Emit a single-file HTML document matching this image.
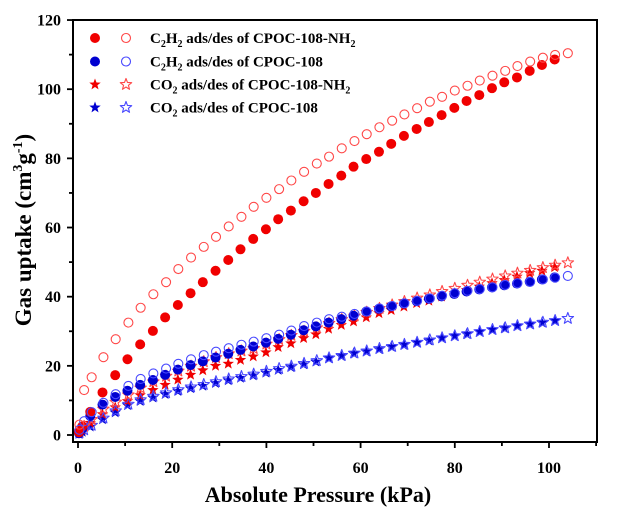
<!DOCTYPE html>
<html><head><meta charset="utf-8"><style>
body{margin:0;background:#fff;}
svg{display:block;font-family:"Liberation Serif",serif;font-weight:bold;}
</style></head><body>
<svg id="chart" width="620" height="513" viewBox="0 0 620 513">
<g id="marks"></g>
<g id="axes"></g>
<g id="legend"></g>
</svg>
<script>
const xTicks=[0,20,40,60,80,100];
const yTicks=[0,20,40,60,80,100,120];
const xAds=[0.2,0.9,2.6,5.2,7.9,10.5,13.2,15.9,18.5,21.2,23.9,26.5,29.2,31.9,34.5,37.2,39.9,42.5,45.2,47.9,50.5,53.2,55.9,58.5,61.2,63.9,66.5,69.2,71.9,74.5,77.2,79.9,82.5,85.2,87.9,90.5,93.2,95.9,98.5,101.2];
const xDes=[0.3,1.3,2.9,5.4,8.0,10.7,13.3,16.0,18.7,21.3,24.0,26.7,29.3,32.0,34.7,37.3,40.0,42.7,45.3,48.0,50.7,53.3,56.0,58.7,61.3,64.0,66.7,69.3,72.0,74.7,77.3,80.0,82.7,85.3,88.0,90.7,93.3,96.0,98.7,101.3,104.0];
const c2h2NH2Ads=[0.8,2.5,6.7,12.3,17.3,21.9,26.2,30.1,34.0,37.6,41.0,44.2,47.5,50.6,53.7,56.7,59.5,62.4,64.9,67.6,70.0,72.6,75.0,77.6,79.8,81.9,84.2,86.5,88.5,90.5,92.5,94.6,96.6,98.3,100.3,102.0,103.4,105.3,107.0,108.6];
const c2h2NH2Des=[3.0,13.0,16.7,22.5,27.7,32.5,36.8,40.7,44.2,48.0,51.3,54.4,57.3,60.3,63.1,66.0,68.6,71.1,73.6,76.1,78.5,80.5,82.9,85.0,87.0,89.0,90.9,92.7,94.5,96.4,97.8,99.6,101.0,102.5,103.9,105.3,106.7,108.0,109.1,109.9,110.4];
const c2h2Ads=[0.5,1.8,5.5,8.8,11.0,12.8,14.5,15.9,17.4,18.9,20.2,21.3,22.4,23.5,24.6,25.6,26.7,27.8,29.0,30.3,31.4,32.5,33.5,34.5,35.7,36.5,37.2,38.0,38.7,39.4,40.1,40.8,41.5,42.1,42.7,43.3,43.8,44.3,45.0,45.6];
const c2h2Des=[1.5,4.0,6.6,9.3,11.8,14.2,16.2,17.8,19.2,20.6,21.9,23.1,24.1,25.1,26.1,27.0,28.0,29.0,30.2,31.5,32.5,33.5,34.2,35.0,35.7,36.6,37.3,38.1,38.8,39.5,40.3,41.0,41.7,42.2,42.7,43.4,43.9,44.3,45.0,45.5,46.0];
const co2NH2Ads=[0.5,1.5,3.5,6.0,8.0,9.8,11.5,13.0,14.5,16.0,17.4,18.7,20.0,20.6,21.7,22.7,23.9,25.4,26.5,28.0,29.1,30.7,31.8,32.8,34.0,35.2,36.1,37.1,38.1,38.8,40.0,41.0,41.9,42.9,43.9,44.8,45.8,46.8,47.5,48.5];
const co2NH2Des=[1.0,2.5,4.5,7.5,9.5,11.6,13.6,15.4,17.0,18.5,19.9,21.2,22.4,23.5,24.3,25.0,26.3,27.6,28.8,30.0,31.0,32.3,33.4,34.4,35.5,36.6,37.6,38.6,39.6,40.5,41.5,42.4,43.3,44.2,45.1,46.0,46.8,47.6,48.4,49.1,49.8];
const co2Ads=[0.3,0.9,2.4,4.5,6.5,8.6,9.8,10.8,11.8,12.7,13.5,14.2,15.0,15.8,16.5,17.2,18.0,18.8,19.6,20.4,21.2,22.2,22.8,23.6,24.1,24.8,25.5,26.0,26.7,27.3,28.0,28.6,29.2,29.9,30.4,30.9,31.5,32.0,32.5,33.0];
const co2Des=[0.6,1.5,2.8,4.9,7.0,8.9,10.2,11.2,12.2,13.1,13.9,14.6,15.4,16.2,16.9,17.6,18.4,19.2,19.9,20.7,21.5,22.3,23.0,23.7,24.3,25.0,25.6,26.2,26.8,27.5,28.1,28.7,29.3,29.9,30.5,31.0,31.6,32.1,32.6,33.1,33.7];

const NS='http://www.w3.org/2000/svg';
const X0=78,XS=4.71,Y0=435,YS=3.458;
const L=73,R=597,T=20,B=442;
function sx(v){return X0+v*XS;}
function sy(v){return Y0-v*YS;}
function mk(tag,attrs,parent){const e=document.createElementNS(NS,tag);for(const k in attrs)e.setAttribute(k,attrs[k]);parent.appendChild(e);return e;}
function starPts(cx,cy,r){let p=[];for(let i=0;i<10;i++){const a=-Math.PI/2+i*Math.PI/5;const rr=i%2?r*0.42:r;p.push((cx+rr*Math.cos(a)).toFixed(2)+','+(cy+rr*Math.sin(a)).toFixed(2));}return p.join(' ');}
function marker(g,shape,filled,color,cx,cy,name){
  let e;
  if(shape==='circle'){e=mk('circle',{cx:cx,cy:cy,r:filled?5:4.5,fill:filled?color:'none',stroke:color,'stroke-width':filled?0:1.1},g);}
  else{e=mk('polygon',{points:starPts(cx,cy,6),fill:filled?color:'none',stroke:color,'stroke-width':filled?0:1.1,'stroke-linejoin':'round'},g);}
  
  
  return e;
}
const marks=document.getElementById('marks');
const series=[
 {xs:xAds,ys:co2Ads,shape:'star',filled:true,color:'#0000d0',name:'co2-cpoc108-ads-point'},
 {xs:xAds,ys:co2NH2Ads,shape:'star',filled:true,color:'#f00000',name:'co2-cpoc108nh2-ads-point'},
 {xs:xDes,ys:co2Des,shape:'star',filled:false,color:'#4848ff',name:'co2-cpoc108-des-point'},
 {xs:xDes,ys:co2NH2Des,shape:'star',filled:false,color:'#ff4848',name:'co2-cpoc108nh2-des-point'},
 {xs:xAds,ys:c2h2Ads,shape:'circle',filled:true,color:'#0000d0',name:'c2h2-cpoc108-ads-point'},
 {xs:xAds,ys:c2h2NH2Ads,shape:'circle',filled:true,color:'#f00000',name:'c2h2-cpoc108nh2-ads-point'},
 {xs:xDes,ys:c2h2Des,shape:'circle',filled:false,color:'#4848ff',name:'c2h2-cpoc108-des-point'},
 {xs:xDes,ys:c2h2NH2Des,shape:'circle',filled:false,color:'#ff4848',name:'c2h2-cpoc108nh2-des-point'}
];
series.forEach(s=>{
  const g=mk('g',{},marks);
  
  
  s.ys.forEach((v,i)=>marker(g,s.shape,s.filled,s.color,sx(s.xs[i]),sy(v),s.name));
});

const axes=document.getElementById('axes');
const frame=mk('rect',{x:L,y:T,width:R-L,height:B-T,fill:'none',stroke:'#000','stroke-width':2},axes);


for(let v=0;v<=110;v+=10){
  const major=v%20===0;
  const t=mk('line',{x1:sx(v),x2:sx(v),y1:B,y2:B+(major?6:4),stroke:'#000','stroke-width':1.8},axes);
  
  
}
for(let v=0;v<=120;v+=10){
  const major=v%20===0;
  const t=mk('line',{x1:L,x2:L-(major?6:4),y1:sy(v),y2:sy(v),stroke:'#000','stroke-width':1.8},axes);
  
  
}
xTicks.forEach(v=>{
  const t=mk('text',{x:sx(v),y:473,'text-anchor':'middle','font-size':16},axes);
  t.textContent=v;
  
  
});
yTicks.forEach(v=>{
  const t=mk('text',{x:61,y:sy(v)+5.5,'text-anchor':'end','font-size':16},axes);
  t.textContent=v;
  
  
});
const xt=mk('text',{x:318,y:502,'text-anchor':'middle','font-size':22},axes);
xt.textContent='Absolute Pressure (kPa)';


const yt=mk('text',{x:0,y:0,'text-anchor':'middle','font-size':23,transform:'translate(31,230) rotate(-90)'},axes);
yt.innerHTML='Gas uptake (cm<tspan dy="-9" font-size="14">3</tspan><tspan dy="9">g</tspan><tspan dy="-9" font-size="14">-1</tspan><tspan dy="9">)</tspan>';



const legend=document.getElementById('legend');
const entries=[
 {shape:'circle',cf:'#f00000',co:'#ff4848',html:'C<tspan dy="4" font-size="10">2</tspan><tspan dy="-4">H</tspan><tspan dy="4" font-size="10">2</tspan><tspan dy="-4"> ads/des of CPOC-108-NH</tspan><tspan dy="4" font-size="10">2</tspan>',name:'legend-entry-c2h2-cpoc108nh2'},
 {shape:'circle',cf:'#0000d0',co:'#4848ff',html:'C<tspan dy="4" font-size="10">2</tspan><tspan dy="-4">H</tspan><tspan dy="4" font-size="10">2</tspan><tspan dy="-4"> ads/des of CPOC-108</tspan>',name:'legend-entry-c2h2-cpoc108'},
 {shape:'star',cf:'#f00000',co:'#ff4848',html:'CO<tspan dy="4" font-size="10">2</tspan><tspan dy="-4"> ads/des of CPOC-108-NH</tspan><tspan dy="4" font-size="10">2</tspan>',name:'legend-entry-co2-cpoc108nh2'},
 {shape:'star',cf:'#0000d0',co:'#4848ff',html:'CO<tspan dy="4" font-size="10">2</tspan><tspan dy="-4"> ads/des of CPOC-108</tspan>',name:'legend-entry-co2-cpoc108'}
];
const rowsY=[38,61.5,84.5,107.5];
entries.forEach((en,i)=>{
  const g=mk('g',{},legend);
  
  
  const y=rowsY[i];
  marker(g,en.shape,true,en.cf,95,y,'legend-marker-ads');
  marker(g,en.shape,false,en.co,126,y,'legend-marker-des');
  const t=mk('text',{x:150,y:y+5,'font-size':15},g);
  t.innerHTML=en.html;
  
  
});
</script>
</body></html>
